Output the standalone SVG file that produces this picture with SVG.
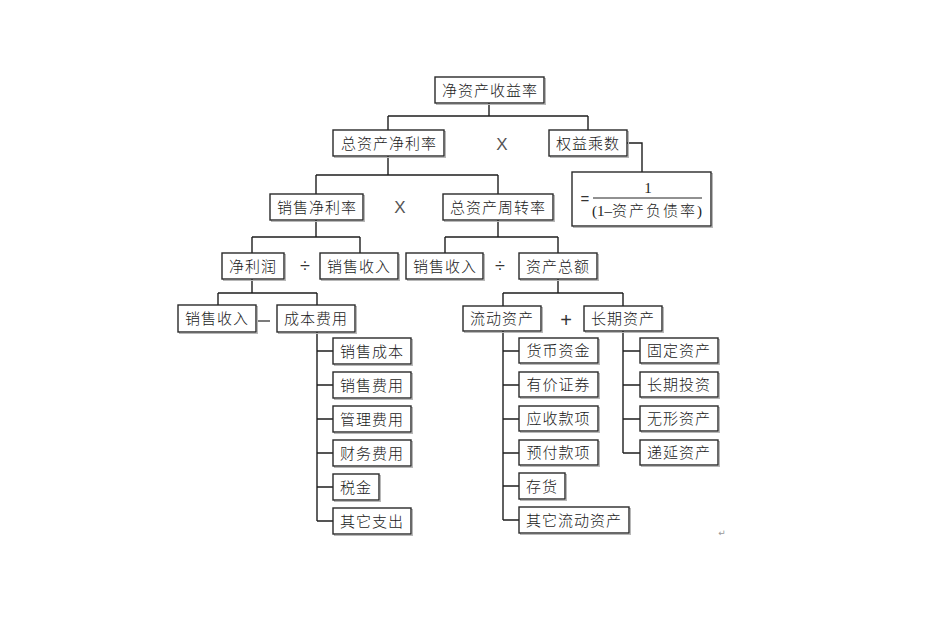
<svg xmlns="http://www.w3.org/2000/svg" width="945" height="625" viewBox="0 0 945 625">
<style>
.bx{fill:#fff;stroke:#2a2a2a;stroke-width:1.4}
.sh{fill:none;stroke:#b8b8b8;stroke-width:1}
.t{font-family:"Noto Sans CJK SC","Liberation Sans",sans-serif;font-size:15px;font-weight:300;fill:#1a1a1a;text-anchor:middle;letter-spacing:1px}
.op{font-family:"Liberation Sans","DejaVu Sans",sans-serif;font-size:18px;fill:#333;text-anchor:middle}
.ln{fill:none;stroke:#1e1e1e;stroke-width:1.4}
</style>
<rect width="945" height="625" fill="#fff"/>
<g id="connectors" class="ln">
<path d="M489,103V116M388,116H588M388,116V130M588,116V130"/>
<path d="M627,143H642V172"/>
<path d="M388,156V175M316,175H498M316,175V194M498,175V194"/>
<path d="M316,220V237M252,237H360M252,237V253M360,237V253"/>
<path d="M498,220V237M445,237H558M445,237V253M558,237V253"/>
<path d="M252,279V293M218,293H317M218,293V305M317,293V305"/>
<path d="M558,279V293M503,293H623M503,293V306M623,293V306"/>
<path d="M317,332V521M317,351H333M317,385H333M317,419H333M317,453H333M317,487H333M317,521H333"/>
<path d="M503,331V520M503,351H519M503,385H519M503,419H519M503,453H519M503,486H519M503,520H519"/>
<path d="M623,331V453M623,351H640M623,385H640M623,419H640M623,453H640"/>
</g>
<g id="ops">
<text class="op" x="502" y="150" style="font-size:17px;fill:#555">X</text>
<text class="op" x="400" y="213" style="font-size:17px;fill:#555">X</text>
<text class="op" x="305" y="272">÷</text>
<text class="op" x="500" y="272">÷</text>
<line x1="258" y1="321" x2="270" y2="321" stroke="#333" stroke-width="1.3"/>
<text class="op" x="566" y="327" style="font-size:20px">+</text>
</g>
<g id="n_roe"><rect class="sh" x="436.5" y="78.5" width="109" height="26"/><rect class="bx" x="435" y="77" width="109" height="26"/><text class="t" x="490" y="95.5">净资产收益率</text></g>
<g id="n_zzcjll"><rect class="sh" x="334.5" y="131.5" width="111" height="26"/><rect class="bx" x="333" y="130" width="111" height="26"/><text class="t" x="389" y="148.5">总资产净利率</text></g>
<g id="n_qycs"><rect class="sh" x="550.5" y="131.5" width="78" height="26"/><rect class="bx" x="549" y="130" width="78" height="26"/><text class="t" x="588" y="148.5">权益乘数</text></g>
<g id="n_formula"><rect class="sh" x="573.5" y="173.5" width="139" height="54"/><rect class="bx" x="572" y="172" width="139" height="54"/>
<text class="op" x="585" y="204" style="font-size:15px">=</text>
<line x1="593" y1="198" x2="702" y2="198" stroke="#222" stroke-width="1"/>
<text x="648" y="193" style="font-family:'Liberation Serif',serif;font-size:15px;fill:#222;text-anchor:middle">1</text>
<text x="647" y="216" style="font-family:'Liberation Serif','Noto Sans CJK SC',serif;font-size:15px;fill:#222;text-anchor:middle">(1–<tspan style="font-family:'Noto Sans CJK SC',sans-serif;font-weight:300;letter-spacing:2px">资产负债率</tspan>)</text></g>
<g id="n_xsjll"><rect class="sh" x="271.5" y="195.5" width="93" height="26"/><rect class="bx" x="270" y="194" width="93" height="26"/><text class="t" x="317" y="212.5">销售净利率</text></g>
<g id="n_zzczzl"><rect class="sh" x="444.5" y="195.5" width="110" height="26"/><rect class="bx" x="443" y="194" width="110" height="26"/><text class="t" x="498" y="212.5">总资产周转率</text></g>
<g id="n_jlr"><rect class="sh" x="223.5" y="254.5" width="62" height="26"/><rect class="bx" x="222" y="253" width="62" height="26"/><text class="t" x="253" y="271.5">净利润</text></g>
<g id="n_xssr1"><rect class="sh" x="321.5" y="254.5" width="78" height="26"/><rect class="bx" x="320" y="253" width="78" height="26"/><text class="t" x="359" y="271.5">销售收入</text></g>
<g id="n_xssr2"><rect class="sh" x="407.5" y="254.5" width="77" height="26"/><rect class="bx" x="406" y="253" width="77" height="26"/><text class="t" x="445" y="271.5">销售收入</text></g>
<g id="n_zcze"><rect class="sh" x="520.5" y="254.5" width="78" height="26"/><rect class="bx" x="519" y="253" width="78" height="26"/><text class="t" x="558" y="271.5">资产总额</text></g>
<g id="n_xssr3"><rect class="sh" x="179.5" y="306.5" width="78" height="27"/><rect class="bx" x="178" y="305" width="78" height="27"/><text class="t" x="217" y="324">销售收入</text></g>
<g id="n_cbfy"><rect class="sh" x="278.5" y="306.5" width="78" height="27"/><rect class="bx" x="277" y="305" width="78" height="27"/><text class="t" x="316" y="324">成本费用</text></g>
<g id="n_ldzc"><rect class="sh" x="464.5" y="307.5" width="78" height="25"/><rect class="bx" x="463" y="306" width="78" height="25"/><text class="t" x="502" y="324">流动资产</text></g>
<g id="n_cqzc"><rect class="sh" x="585.5" y="307.5" width="78" height="25"/><rect class="bx" x="584" y="306" width="78" height="25"/><text class="t" x="623" y="324">长期资产</text></g>
<g id="n_xscb"><rect class="sh" x="334.5" y="339.5" width="78" height="26"/><rect class="bx" x="333" y="338" width="78" height="26"/><text class="t" x="372" y="356.5">销售成本</text></g>
<g id="n_xsfy"><rect class="sh" x="334.5" y="373.5" width="78" height="26"/><rect class="bx" x="333" y="372" width="78" height="26"/><text class="t" x="372" y="390.5">销售费用</text></g>
<g id="n_glfy"><rect class="sh" x="334.5" y="407.5" width="78" height="26"/><rect class="bx" x="333" y="406" width="78" height="26"/><text class="t" x="372" y="424.5">管理费用</text></g>
<g id="n_cwfy"><rect class="sh" x="334.5" y="441.5" width="78" height="26"/><rect class="bx" x="333" y="440" width="78" height="26"/><text class="t" x="372" y="458.5">财务费用</text></g>
<g id="n_sj"><rect class="sh" x="334.5" y="475.5" width="46" height="26"/><rect class="bx" x="333" y="474" width="46" height="26"/><text class="t" x="356" y="492.5">税金</text></g>
<g id="n_qtzc"><rect class="sh" x="334.5" y="509.5" width="78" height="26"/><rect class="bx" x="333" y="508" width="78" height="26"/><text class="t" x="372" y="526.5">其它支出</text></g>
<g id="n_hbzj"><rect class="sh" x="520.5" y="339.5" width="79" height="25"/><rect class="bx" x="519" y="338" width="79" height="25"/><text class="t" x="558.5" y="356">货币资金</text></g>
<g id="n_yjzq"><rect class="sh" x="520.5" y="373.5" width="79" height="25"/><rect class="bx" x="519" y="372" width="79" height="25"/><text class="t" x="558.5" y="390">有价证券</text></g>
<g id="n_yskx"><rect class="sh" x="520.5" y="407.5" width="79" height="25"/><rect class="bx" x="519" y="406" width="79" height="25"/><text class="t" x="558.5" y="424">应收款项</text></g>
<g id="n_yfkx"><rect class="sh" x="520.5" y="441.5" width="79" height="25"/><rect class="bx" x="519" y="440" width="79" height="25"/><text class="t" x="558.5" y="458">预付款项</text></g>
<g id="n_ch"><rect class="sh" x="520.5" y="474.5" width="46" height="26"/><rect class="bx" x="519" y="473" width="46" height="26"/><text class="t" x="542" y="491.5">存货</text></g>
<g id="n_qtldzc"><rect class="sh" x="520.5" y="508.5" width="110" height="26"/><rect class="bx" x="519" y="507" width="110" height="26"/><text class="t" x="574" y="525.5">其它流动资产</text></g>
<g id="n_gdzc"><rect class="sh" x="641.5" y="339.5" width="78" height="25"/><rect class="bx" x="640" y="338" width="78" height="25"/><text class="t" x="679" y="356">固定资产</text></g>
<g id="n_cqtz"><rect class="sh" x="641.5" y="373.5" width="78" height="25"/><rect class="bx" x="640" y="372" width="78" height="25"/><text class="t" x="679" y="390">长期投资</text></g>
<g id="n_wxzc"><rect class="sh" x="641.5" y="407.5" width="78" height="25"/><rect class="bx" x="640" y="406" width="78" height="25"/><text class="t" x="679" y="424">无形资产</text></g>
<g id="n_dyzc"><rect class="sh" x="641.5" y="441.5" width="78" height="25"/><rect class="bx" x="640" y="440" width="78" height="25"/><text class="t" x="679" y="458">递延资产</text></g>
<text x="722" y="536" style="font-family:'DejaVu Sans',sans-serif;font-size:9px;fill:#999;text-anchor:middle">↵</text>
</svg>
